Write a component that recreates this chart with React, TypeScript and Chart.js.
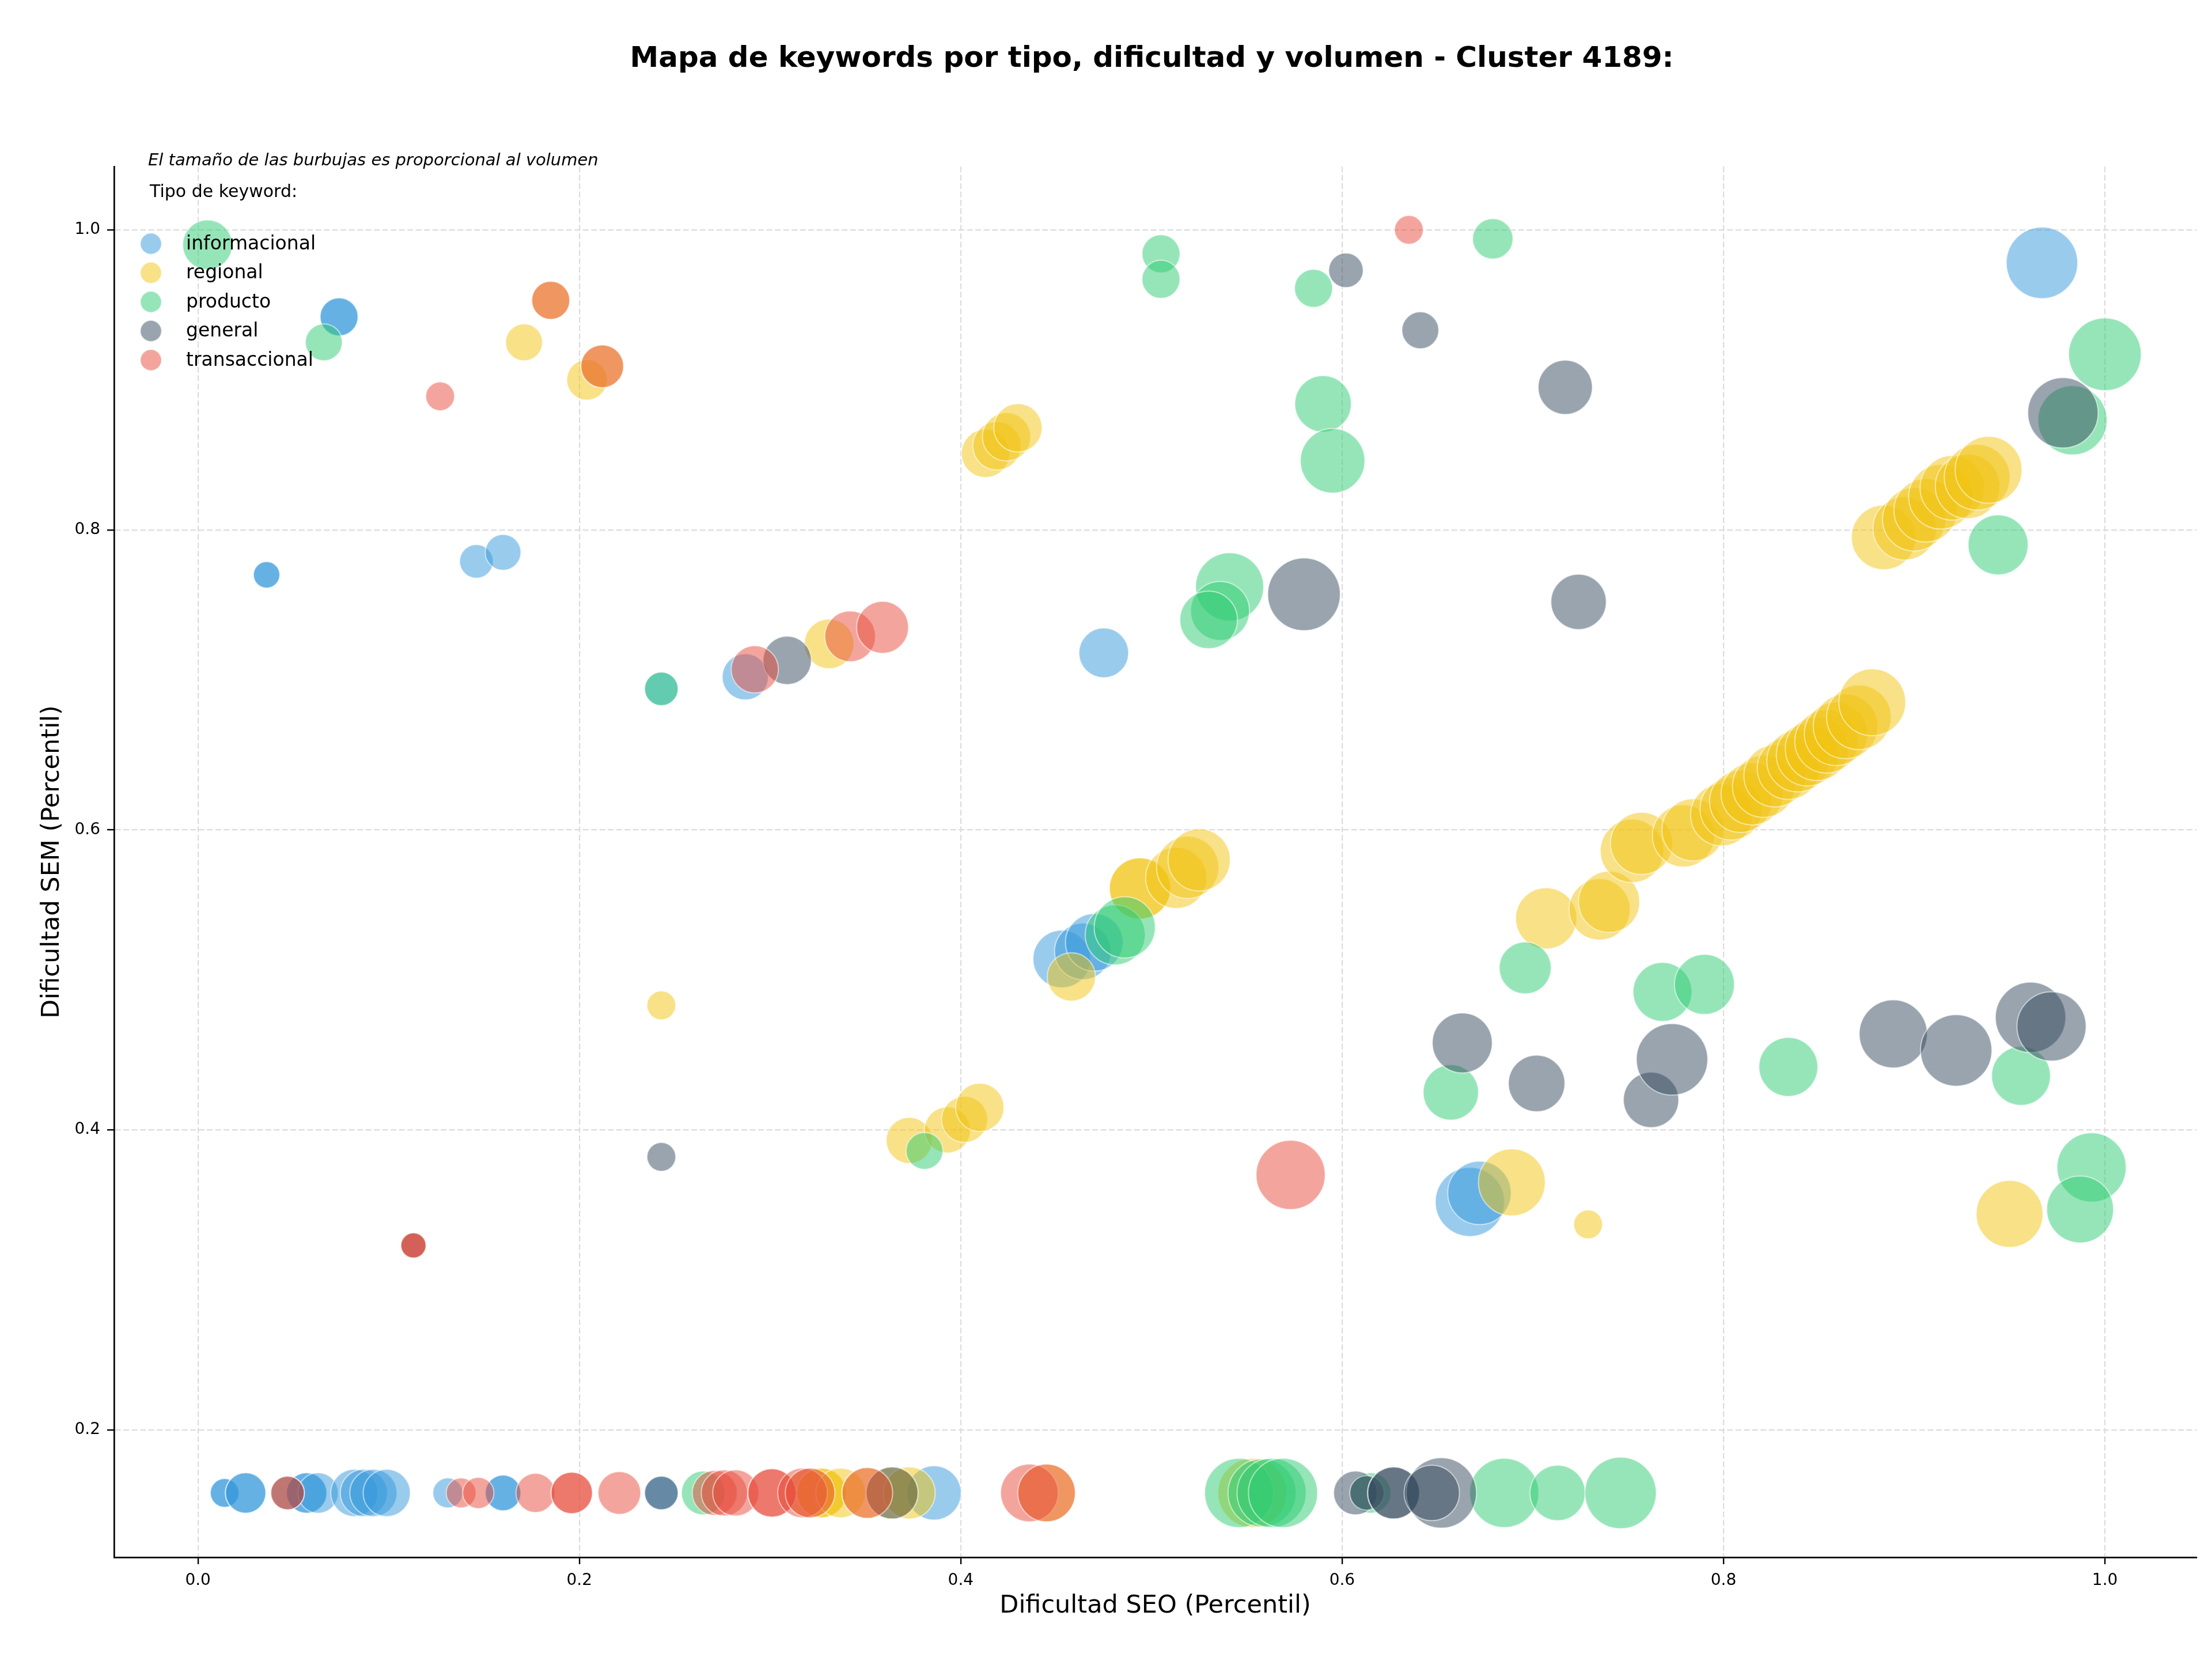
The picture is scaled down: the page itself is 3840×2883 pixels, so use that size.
import { useEffect, useRef } from 'react';
import { Chart, registerables } from 'chart.js';

Chart.register(...registerables);

const WIDTH = 3840;
const HEIGHT = 2883;

const TITLE = 'Mapa de keywords por tipo, dificultad y volumen - Cluster 4189:';
const NOTE = 'El tamaño de las burbujas es proporcional al volumen';
const LEGEND_TITLE = 'Tipo de keyword:';
const X_LABEL = 'Dificultad SEO (Percentil)';
const Y_LABEL = 'Dificultad SEM (Percentil)';

const TYPE_NAMES = ['informacional', 'regional', 'producto', 'general', 'transaccional'];
const TYPE_RGB = ['52,152,219', '241,196,15', '46,204,113', '52,73,94', '231,76,60'];

// informacional
const infoSeo = [0.074, 0.074, 0.036, 0.036, 0.146, 0.160, 0.243, 0.287, 0.475, 0.453, 0.464, 0.470, 0.967, 0.667, 0.672,
  0.014, 0.014, 0.025, 0.025, 0.057, 0.057, 0.063, 0.082, 0.087, 0.092, 0.099, 0.131, 0.160, 0.160, 0.243, 0.386];
const infoSem = [0.942, 0.942, 0.770, 0.770, 0.779, 0.785, 0.694, 0.702, 0.718, 0.514, 0.519, 0.525, 0.978, 0.352, 0.358,
  0.158, 0.158, 0.158, 0.158, 0.158, 0.158, 0.158, 0.158, 0.158, 0.158, 0.158, 0.158, 0.158, 0.158, 0.158, 0.158];
const infoVol = [68, 68, 33, 33, 53, 60, 53, 100, 116, 156, 150, 156, 240, 225, 189,
  39, 39, 77, 77, 77, 77, 77, 105, 105, 105, 105, 42, 60, 60, 53, 138];

// regional
const regSeo = [0.171, 0.204, 0.185, 0.212, 0.243, 0.331, 0.413, 0.419, 0.424, 0.430, 0.373, 0.393, 0.402, 0.410, 0.458,
  0.494, 0.494, 0.513, 0.519, 0.525, 0.689, 0.729, 0.707, 0.735, 0.740, 0.752, 0.757, 0.779, 0.784,
  0.799, 0.804, 0.809, 0.815, 0.821, 0.827, 0.834, 0.839, 0.844, 0.849, 0.854, 0.859, 0.864, 0.871, 0.878,
  0.884, 0.895, 0.900, 0.906, 0.914, 0.920, 0.928, 0.933, 0.939,
  0.950,
  0.321, 0.327, 0.327, 0.337, 0.351, 0.364, 0.373, 0.445, 0.553];
const regSem = [0.925, 0.900, 0.953, 0.909, 0.483, 0.724, 0.851, 0.856, 0.862, 0.868, 0.393, 0.400, 0.407, 0.415, 0.502,
  0.561, 0.561, 0.568, 0.575, 0.580, 0.365, 0.337, 0.541, 0.547, 0.552, 0.586, 0.591, 0.596, 0.600,
  0.610, 0.614, 0.619, 0.624, 0.629, 0.636, 0.641, 0.646, 0.650, 0.654, 0.659, 0.664, 0.669, 0.675, 0.685,
  0.795, 0.801, 0.807, 0.813, 0.822, 0.828, 0.829, 0.835, 0.840,
  0.344,
  0.158, 0.158, 0.158, 0.158, 0.158, 0.158, 0.158, 0.158, 0.158];
const regVol = [64, 77, 68, 86, 39, 116, 110, 110, 110, 110, 100, 100, 100, 110, 110,
  176, 176, 176, 182, 182, 210, 39, 176, 176, 176, 189, 182, 182, 182,
  182, 182, 182, 182, 182, 182, 182, 182, 182, 189, 189, 189, 196, 196, 210,
  196, 189, 189, 189, 196, 196, 196, 203, 210,
  210,
  116, 116, 116, 116, 121, 127, 127, 156, 225];

// producto
const prodSeo = [0.005, 0.066, 0.243, 0.381, 0.481, 0.486, 0.505, 0.505, 0.585, 0.679, 0.590, 0.595, 0.541, 0.536, 0.530,
  0.696, 0.657, 0.768, 0.790, 0.834, 0.956, 0.993, 0.987, 0.944, 1.000, 0.983,
  0.265, 0.546, 0.558, 0.563, 0.569, 0.615, 0.685, 0.713, 0.746];
const prodSem = [0.990, 0.925, 0.694, 0.386, 0.530, 0.535, 0.984, 0.967, 0.961, 0.994, 0.884, 0.846, 0.762, 0.746, 0.740,
  0.508, 0.425, 0.492, 0.497, 0.442, 0.436, 0.375, 0.347, 0.790, 0.917, 0.873,
  0.158, 0.158, 0.158, 0.158, 0.158, 0.158, 0.158, 0.158, 0.158];
const prodVol = [116, 64, 53, 64, 169, 176, 68, 68, 68, 77, 150, 196, 218, 163, 156,
  127, 144, 163, 169, 163, 163, 225, 210, 169, 248, 225,
  90, 225, 218, 225, 225, 77, 225, 144, 240];

// general
const genSeo = [0.309, 0.243, 0.602, 0.641, 0.717, 0.580, 0.724, 0.663, 0.702, 0.762, 0.773, 0.889, 0.922, 0.961, 0.972, 0.978,
  0.113,
  0.047, 0.243, 0.364, 0.607, 0.613, 0.627, 0.627, 0.652, 0.647];
const genSem = [0.713, 0.382, 0.973, 0.933, 0.895, 0.757, 0.752, 0.458, 0.431, 0.420, 0.447, 0.464, 0.453, 0.475, 0.469, 0.878,
  0.323,
  0.158, 0.158, 0.158, 0.158, 0.158, 0.158, 0.158, 0.158, 0.158];
const genVol = [110, 39, 56, 64, 138, 248, 144, 169, 150, 144, 240, 218, 240, 233, 225, 233,
  30,
  53, 53, 127, 90, 56, 127, 127, 233, 144];

// transaccional
const tranSeo = [0.127, 0.185, 0.212, 0.292, 0.342, 0.359, 0.113, 0.113, 0.573, 0.635,
  0.047, 0.138, 0.147, 0.177, 0.196, 0.196, 0.221, 0.271, 0.276, 0.282, 0.301, 0.301, 0.317, 0.321, 0.351, 0.436, 0.445];
const tranSem = [0.889, 0.953, 0.909, 0.707, 0.729, 0.735, 0.323, 0.323, 0.370, 1.000,
  0.158, 0.158, 0.158, 0.158, 0.158, 0.158, 0.158, 0.158, 0.158, 0.158, 0.158, 0.158, 0.158, 0.158, 0.158, 0.158, 0.158];
const tranVol = [39, 68, 86, 105, 121, 127, 30, 30, 225, 39,
  53, 42, 46, 72, 81, 81, 86, 95, 100, 100, 110, 110, 116, 116, 121, 156, 156];

const SERIES = [
  { seo: infoSeo, sem: infoSem, vol: infoVol },
  { seo: regSeo, sem: regSem, vol: regVol },
  { seo: prodSeo, sem: prodSem, vol: prodVol },
  { seo: genSeo, sem: genSem, vol: genVol },
  { seo: tranSeo, sem: tranSem, vol: tranVol },
];

const X_RANGE = [-0.044, 1.048];
const Y_RANGE = [0.1151, 1.0422];
const TICK_STEP = 0.2;

const FONT = "'DejaVu Sans', 'Liberation Sans', sans-serif";

// bubble area grows with search volume
const bubbleRadius = (vol: number) => 4 * Math.sqrt(vol);

const fill = (rgb: string) => `rgba(${rgb},0.5)`;
const EDGE = 'rgba(255,255,255,0.55)';

const decorations = {
  id: 'decorations',
  afterDatasetsDraw(chart: any) {
    const ctx: CanvasRenderingContext2D = chart.ctx;
    ctx.save();
    // legend block in the upper-left corner of the plot
    ctx.fillStyle = '#000';
    ctx.textBaseline = 'middle';
    ctx.textAlign = 'left';
    ctx.font = `italic 29px ${FONT}`;
    ctx.fillText(NOTE, 257, 279);
    ctx.font = `30px ${FONT}`;
    ctx.fillText(LEGEND_TITLE, 260, 334);
    TYPE_NAMES.forEach((name, i) => {
      const cy = 423 + i * 50.5;
      ctx.beginPath();
      ctx.arc(262, cy, 18.5, 0, Math.PI * 2);
      ctx.fillStyle = fill(TYPE_RGB[i]);
      ctx.fill();
      ctx.lineWidth = 2;
      ctx.strokeStyle = EDGE;
      ctx.stroke();
      ctx.fillStyle = '#000';
      ctx.font = `33px ${FONT}`;
      ctx.fillText(name, 323, cy + 1);
    });
    ctx.restore();
  },
  afterDraw(chart: any) {
    const ctx: CanvasRenderingContext2D = chart.ctx;
    const area = chart.chartArea;
    const cx = (area.left + area.right) / 2;
    ctx.save();
    ctx.fillStyle = '#000';
    ctx.textAlign = 'center';
    ctx.textBaseline = 'middle';
    ctx.font = `bold 50px ${FONT}`;
    ctx.fillText(TITLE, cx - 6, 103);
    ctx.font = `43px ${FONT}`;
    ctx.fillText(X_LABEL, cx, 2788);
    ctx.translate(91, (area.top + area.bottom) / 2);
    ctx.rotate(-Math.PI / 2);
    ctx.fillText(Y_LABEL, 0, 0);
    ctx.restore();
  },
};

const tickLabel = (v: any) => {
  const n = Number(v);
  return (Math.abs(n) < 1e-9 ? 0 : n).toFixed(1);
};

const axisCommon = {
  grid: {
    color: '#dcdcdc',
    lineWidth: 2.2,
    tickColor: '#000',
    tickWidth: 2.4,
    tickLength: 12,
  },
  border: { display: true, color: '#000', width: 2.7, dash: [10, 4.5] },
};

export default function App() {
  const ref = useRef<HTMLCanvasElement | null>(null);

  useEffect(() => {
    document.body.style.margin = '0';
    const canvas = ref.current;
    if (!canvas) return;

    const datasets = SERIES.map((s, i) => ({
      label: TYPE_NAMES[i],
      data: s.seo.map((x, j) => ({ x, y: s.sem[j], r: bubbleRadius(s.vol[j]) })),
      backgroundColor: fill(TYPE_RGB[i]),
      borderColor: EDGE,
      borderWidth: 2,
      hoverBorderWidth: 2,
      hoverRadius: 0,
      order: SERIES.length - i,
    }));

    const chart = new Chart(canvas, {
      type: 'bubble',
      data: { datasets },
      plugins: [decorations],
      options: {
        animation: false,
        responsive: false,
        devicePixelRatio: 1,
        events: [],
        layout: { autoPadding: false, padding: { top: 289, right: 27, bottom: 0, left: 0 } },
        plugins: {
          legend: { display: false },
          tooltip: { enabled: false },
          title: { display: false },
        },
        scales: {
          x: {
            type: 'linear',
            min: X_RANGE[0],
            max: X_RANGE[1],
            ...axisCommon,
            ticks: {
              stepSize: TICK_STEP,
              includeBounds: false,
              maxRotation: 0,
              padding: 12,
              color: '#000',
              font: { family: FONT, size: 28 },
              callback: tickLabel,
            },
            afterFit: (scale: any) => { scale.height = 180; },
          },
          y: {
            type: 'linear',
            min: Y_RANGE[0],
            max: Y_RANGE[1],
            ...axisCommon,
            ticks: {
              stepSize: TICK_STEP,
              includeBounds: false,
              padding: 12,
              color: '#000',
              font: { family: FONT, size: 28 },
              callback: tickLabel,
            },
            afterFit: (scale: any) => { scale.width = 198; },
          },
        },
      },
    } as any);

    return () => chart.destroy();
  }, []);

  return (
    <canvas
      ref={ref}
      width={WIDTH}
      height={HEIGHT}
      style={{ display: 'block', width: WIDTH, height: HEIGHT, background: '#fff' }}
    />
  );
}
